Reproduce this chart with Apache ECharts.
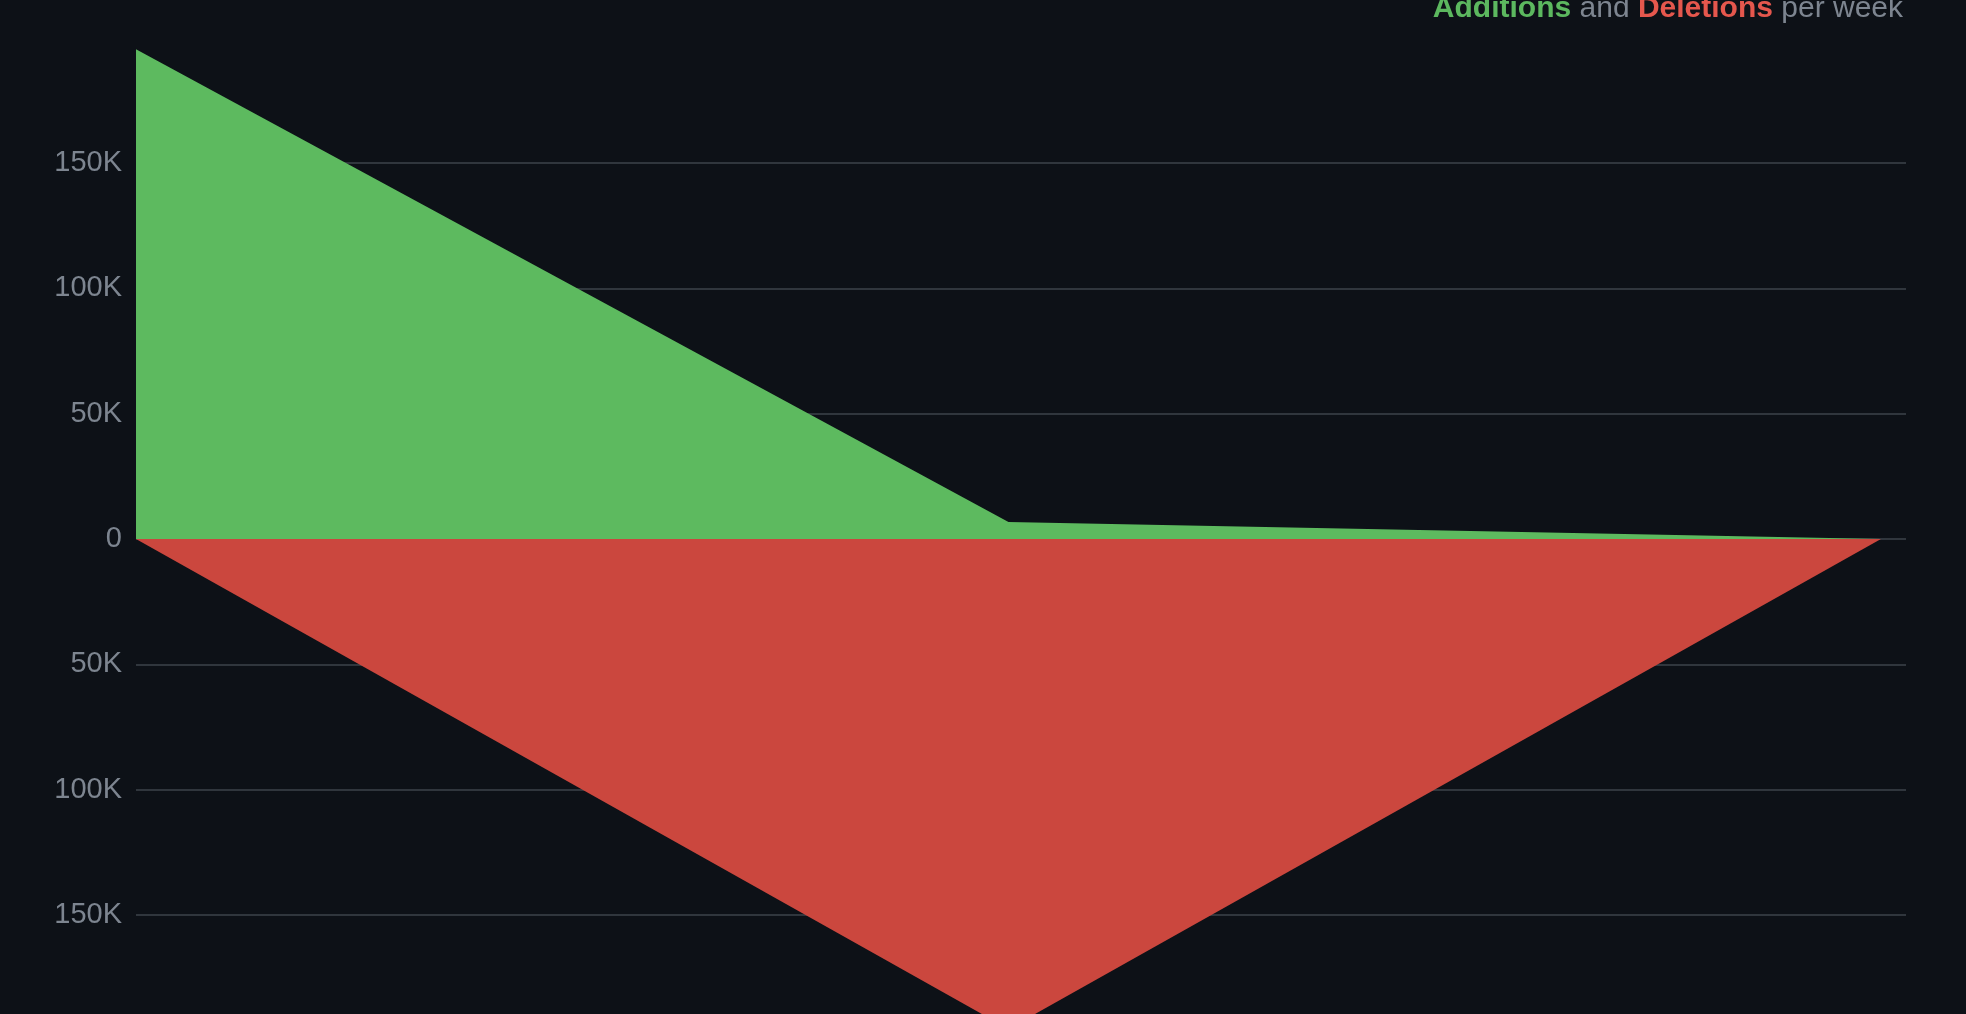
<!DOCTYPE html>
<html>
<head>
<meta charset="utf-8">
<script src="https://cdn.jsdelivr.net/npm/echarts@6/dist/echarts.min.js"></script>
<style>
html,body{margin:0;padding:0;background:#0d1117;}
#c{width:1966px;height:1014px;}
</style>
</head>
<body>
<div id="c"></div>
<script>
// Week positions (index of week)
const weeks = [0, 1, 2];
// Lines added per week
const additions = [195400, 6800, 0];
// Lines deleted per week (plotted as negative)
const deletions = [0, -195500, 0];
// Y tick step
const yInterval = 50000;

const chart = echarts.init(document.getElementById('c'));
const FONT = 'Liberation Sans';
chart.setOption({
  backgroundColor: '#0d1117',
  animation: false,
  title: {
    right: 63,
    top: -6.5,
    padding: 0,
    text: '{a|Additions} {g|and} {d|Deletions} {g|per week}',
    textStyle: {
      fontFamily: FONT,
      fontSize: 30,
      fontWeight: 'normal',
      rich: {
        a: {color: '#5cb85f', fontWeight: 'bold', fontSize: 30, fontFamily: FONT},
        d: {color: '#e5574d', fontWeight: 'bold', fontSize: 30, fontFamily: FONT},
        g: {color: '#7d8590', fontWeight: 'normal', fontSize: 30, fontFamily: FONT}
      }
    }
  },
  grid: {left: 136, right: 60, top: 47.8, height: 992.4, containLabel: false, outerBoundsMode: 'none'},
  xAxis: {
    type: 'value', min: 0, max: 2.0287,
    axisLine: {show: false}, axisTick: {show: false}, axisLabel: {show: false},
    splitLine: {show: false}
  },
  yAxis: {
    type: 'value', min: -200000, max: 196000, interval: yInterval,
    axisLine: {show: false}, axisTick: {show: false},
    axisLabel: {
      color: '#7d8590', fontSize: 29, fontFamily: FONT, margin: 14,
      padding: [9, 0, 0, 0],
      showMaxLabel: false, showMinLabel: false,
      formatter: v => v === 0 ? '0' : (Math.abs(v) / 1000) + 'K'
    },
    splitLine: {show: true, showMaxLine: false, showMinLine: false, lineStyle: {color: '#30363d', width: 2}}
  },
  series: [
    {
      type: 'line', name: 'Additions', symbol: 'none',
      data: weeks.map((w, i) => [w, additions[i]]),
      lineStyle: {width: 0}, areaStyle: {color: '#5dba5f', opacity: 1}, itemStyle: {color: '#5dba5f'}
    },
    {
      type: 'line', name: 'Deletions', symbol: 'none',
      data: weeks.map((w, i) => [w, deletions[i]]),
      lineStyle: {width: 0}, areaStyle: {color: '#cb473e', opacity: 1}, itemStyle: {color: '#cb473e'}
    }
  ]
});
</script>
</body>
</html>
